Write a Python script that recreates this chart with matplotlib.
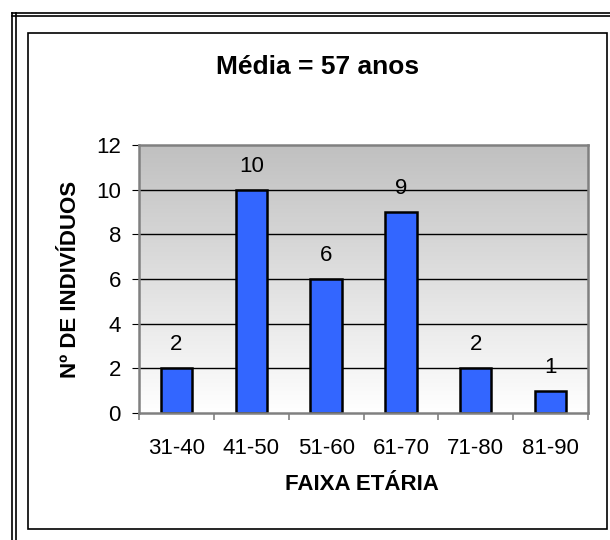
import numpy as np
import matplotlib
matplotlib.use('Agg')
from matplotlib import pyplot as plt
from matplotlib.lines import Line2D
from matplotlib.patches import Rectangle
from matplotlib.colors import LinearSegmentedColormap

faixas = ['31-40', '41-50', '51-60', '61-70', '71-80', '81-90']
individuos = [2, 10, 6, 9, 2, 1]
yticks = [0, 2, 4, 6, 8, 10, 12]

plt.rcParams['font.family'] = ['Liberation Sans', 'DejaVu Sans']

W, H = 610, 540
fig = plt.figure(figsize=(W / 100, H / 100), dpi=100)


def px(x, y):
    return x / W, 1 - y / H


# frames around the chart
for y in (12.5, 16):
    x0, y0 = px(12, y)
    x1, _ = px(610, y)
    fig.add_artist(Line2D([x0, x1], [y0, y0], color='black', lw=1.2))
for x in (12, 15.5):
    xa, ya = px(x, 12.5)
    _, yb = px(x, 540)
    fig.add_artist(Line2D([xa, xa], [ya, yb], color='black', lw=1.2))
bx, by = px(28, 529)
fig.add_artist(Rectangle((bx, by), (607 - 28) / W, (529 - 33) / H, fill=False,
                         edgecolor='black', lw=1.2, transform=fig.transFigure))

ax = fig.add_axes([139 / W, (540 - 413) / H, (588 - 139) / W, (413 - 145) / H])
ax.set_xlim(-0.5, 5.5)
ax.set_ylim(0, 12)

# gray (top) to white (bottom) background
grad = np.linspace(0, 1, 256).reshape(-1, 1)
cmap = LinearSegmentedColormap.from_list('g', ['#c0c0c0', '#ffffff'])
ax.imshow(grad, cmap=cmap, aspect='auto', extent=[-0.5, 5.5, 0, 12],
          origin='upper', zorder=0)

for v in yticks[1:-1]:
    ax.axhline(v, color='black', lw=1, zorder=1)

x = np.arange(len(faixas))
ax.bar(x, individuos, width=0.42, color='#3366ff', edgecolor='black', lw=1.8, zorder=2)
for xi, v in zip(x, individuos):
    ax.annotate(str(v), (xi, v), xytext=(0, 13), textcoords='offset points',
                ha='center', va='baseline', fontsize=16)

for s in ax.spines.values():
    s.set_color('#808080')
    s.set_linewidth(1.8)

ax.set_yticks(yticks)
ax.set_yticklabels([str(v) for v in yticks], fontsize=16)
ax.tick_params(axis='y', length=5, color='black', pad=8)
ax.set_xticks(x)
ax.set_xticklabels(faixas, fontsize=16)
ax.tick_params(axis='x', which='major', length=0, pad=18)
ax.set_xticks(np.arange(-0.5, 6, 1), minor=True)
ax.tick_params(axis='x', which='minor', length=5, color='#808080', width=1.2)

fig.text(318 / W, 1 - 67 / H, 'Média = 57 anos', ha='center', va='center',
         fontsize=19, fontweight='bold')
fig.text(70 / W, 1 - 279 / H, 'Nº DE INDIVÍDUOS', ha='center', va='center',
         rotation=90, fontsize=16, fontweight='bold')
fig.text(362 / W, 1 - 484 / H, 'FAIXA ETÁRIA', ha='center', va='center',
         fontsize=16, fontweight='bold')

fig.savefig('out.png', dpi=100)
